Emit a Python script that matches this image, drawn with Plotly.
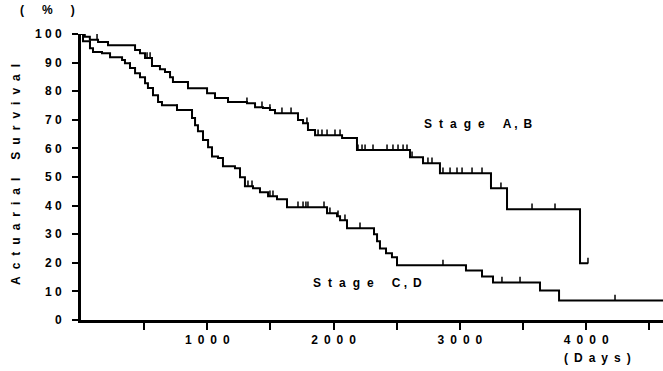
import plotly.graph_objects as go
import bisect

# ---- data ----
ab_days = [0, 30, 70, 135, 214, 428, 467, 507, 562, 625, 665, 705, 728, 847, 998, 1061,
           1164, 1314, 1378, 1441, 1496, 1536, 1718, 1758, 1797, 1853, 2067, 2185, 2605,
           2708, 2842, 3246, 3373, 3951, 4014]
ab_surv = [100, 99.0, 98.0, 97.2, 96.1, 94.4, 93.3, 91.6, 88.8, 87.7, 86.7, 84.9, 83.2, 81.0,
           79.3, 77.6, 76.2, 75.8, 74.4, 74.1, 73.4, 72.3, 69.9, 68.8, 66.4, 64.6, 63.6, 59.4,
           56.9, 54.8, 51.3, 46.1, 38.7, 19.8, 19.8]
ab_censored = [127, 523, 547, 1314, 1433, 1496, 1591, 1663, 1789, 1877, 1908, 1948, 2011,
               2051, 2193, 2225, 2249, 2312, 2423, 2470, 2510, 2550, 2581, 2621, 2708, 2747,
               2779, 2866, 2922, 2977, 3017, 3096, 3175, 3325, 3571, 3753, 4014]

cd_days = [0, 16, 71, 95, 166, 230, 325, 348, 388, 428, 467, 507, 530, 570, 610, 641, 760,
           879, 903, 926, 966, 1006, 1037, 1085, 1124, 1219, 1259, 1298, 1362, 1417, 1481,
           1552, 1631, 1948, 2027, 2051, 2106, 2320, 2344, 2367, 2415, 2462, 2502, 3048,
           3175, 3262, 3634, 3785, 4650]
cd_surv = [100, 97.5, 95.0, 93.7, 93.3, 91.9, 90.9, 89.8, 88.1, 86.3, 84.9, 82.8, 81.1, 78.6,
           76.2, 75.1, 73.4, 70.6, 68.1, 66.0, 62.9, 60.4, 57.2, 56.6, 53.8, 53.1, 49.9, 46.8,
           46.1, 44.7, 43.3, 42.2, 39.4, 37.3, 36.3, 34.9, 32.1, 30.0, 27.5, 25.0, 23.3, 21.9,
           19.1, 17.3, 15.2, 13.1, 10.3, 6.8, 6.8]
cd_censored = [388, 760, 1322, 1354, 1496, 1520, 1718, 1758, 1781, 1797, 1924, 1948, 1971,
               2035, 2090, 2209, 2866, 3333, 3476, 4228]

x_ticks = [500, 1000, 1500, 2000, 2500, 3000, 3500, 4000, 4500]
x_labels = ["", "1000", "", "2000", "", "3000", "", "4000", ""]
y_ticks = [0, 10, 20, 30, 40, 50, 60, 70, 80, 90, 100]
y_labels = ["0", "10", "20", "30", "40", "50", "60", "70", "80", "90", "100"]


def step_value(days, surv, t):
    i = bisect.bisect_right(days, t) - 1
    return surv[max(i, 0)]


def spaced(s, sep):
    return sep.join(list(s))


FONT = "Liberation Sans"
EN = "\u2002"
HAIR = "\u200a"

fig = go.Figure()
for d, s, c in [(ab_days, ab_surv, ab_censored), (cd_days, cd_surv, cd_censored)]:
    fig.add_trace(go.Scatter(x=d, y=s, mode="lines", line=dict(shape="hv", color="black", width=2),
                             showlegend=False, hoverinfo="skip"))
    cy = [step_value(d, s, t) for t in c]
    fig.add_trace(go.Scatter(x=c, y=cy, mode="markers", marker=dict(size=1, color="black"),
                             error_y=dict(type="data", symmetric=False, array=[2.0] * len(c),
                                          arrayminus=[0] * len(c), width=0, thickness=1.5,
                                          color="black"),
                             showlegend=False, hoverinfo="skip"))

fig.update_layout(
    width=663, height=371,
    margin=dict(l=81, r=0, t=34, b=51),
    paper_bgcolor="white", plot_bgcolor="white",
    font=dict(family=FONT, color="black"),
)
fig.update_xaxes(range=[0, 4608], showgrid=False, zeroline=False,
                 showline=True, linewidth=3, linecolor="black",
                 ticks="outside", ticklen=7, tickwidth=2, tickcolor="black",
                 tickvals=x_ticks, ticktext=["<b>" + spaced(t, EN) + "</b>" for t in x_labels],
                 tickfont=dict(size=12, family=FONT))
fig.update_yaxes(range=[0, 100], showgrid=False, zeroline=False,
                 showline=True, linewidth=3, linecolor="black",
                 ticks="outside", ticklen=6, tickwidth=2, tickcolor="black",
                 tickvals=y_ticks, ticktext=["<b>" + spaced(t, " ") + "</b>" for t in y_labels],
                 tickfont=dict(size=12, family=FONT), ticklabelstandoff=8)


def ann(text, x, y, xref="x", yref="y", angle=0, size=12):
    fig.add_annotation(text="<b>" + text + "</b>", x=x, y=y, xref=xref, yref=yref,
                       showarrow=False, textangle=angle, font=dict(size=size, family=FONT),
                       xanchor="center", yanchor="middle")


SEP = EN + HAIR
ann(spaced("Stage", SEP) + EN + EN + EN + "A ," + EN + "B", 3151, 68.5)
ann(spaced("Stage", SEP) + EN + EN + EN + "C ," + EN + "D", 2272, 12.8)
ann(spaced("(Days)", EN), (597 - 81) / 582, (320 - 358) / 286, "paper", "paper")
ann("(" + EN * 3 + "%" + EN * 3 + ")", (47 - 81) / 582, (320 - 10) / 286, "paper", "paper")
ann(spaced("Actuarial", SEP) + EN * 3 + spaced("Survival", SEP),
    (16 - 81) / 582, (320 - 175) / 286, "paper", "paper", angle=-90)

fig.write_html("out.html", config={"displayModeBar": False},
               post_script="document.body.style.margin='0';document.body.style.overflow='hidden';")
